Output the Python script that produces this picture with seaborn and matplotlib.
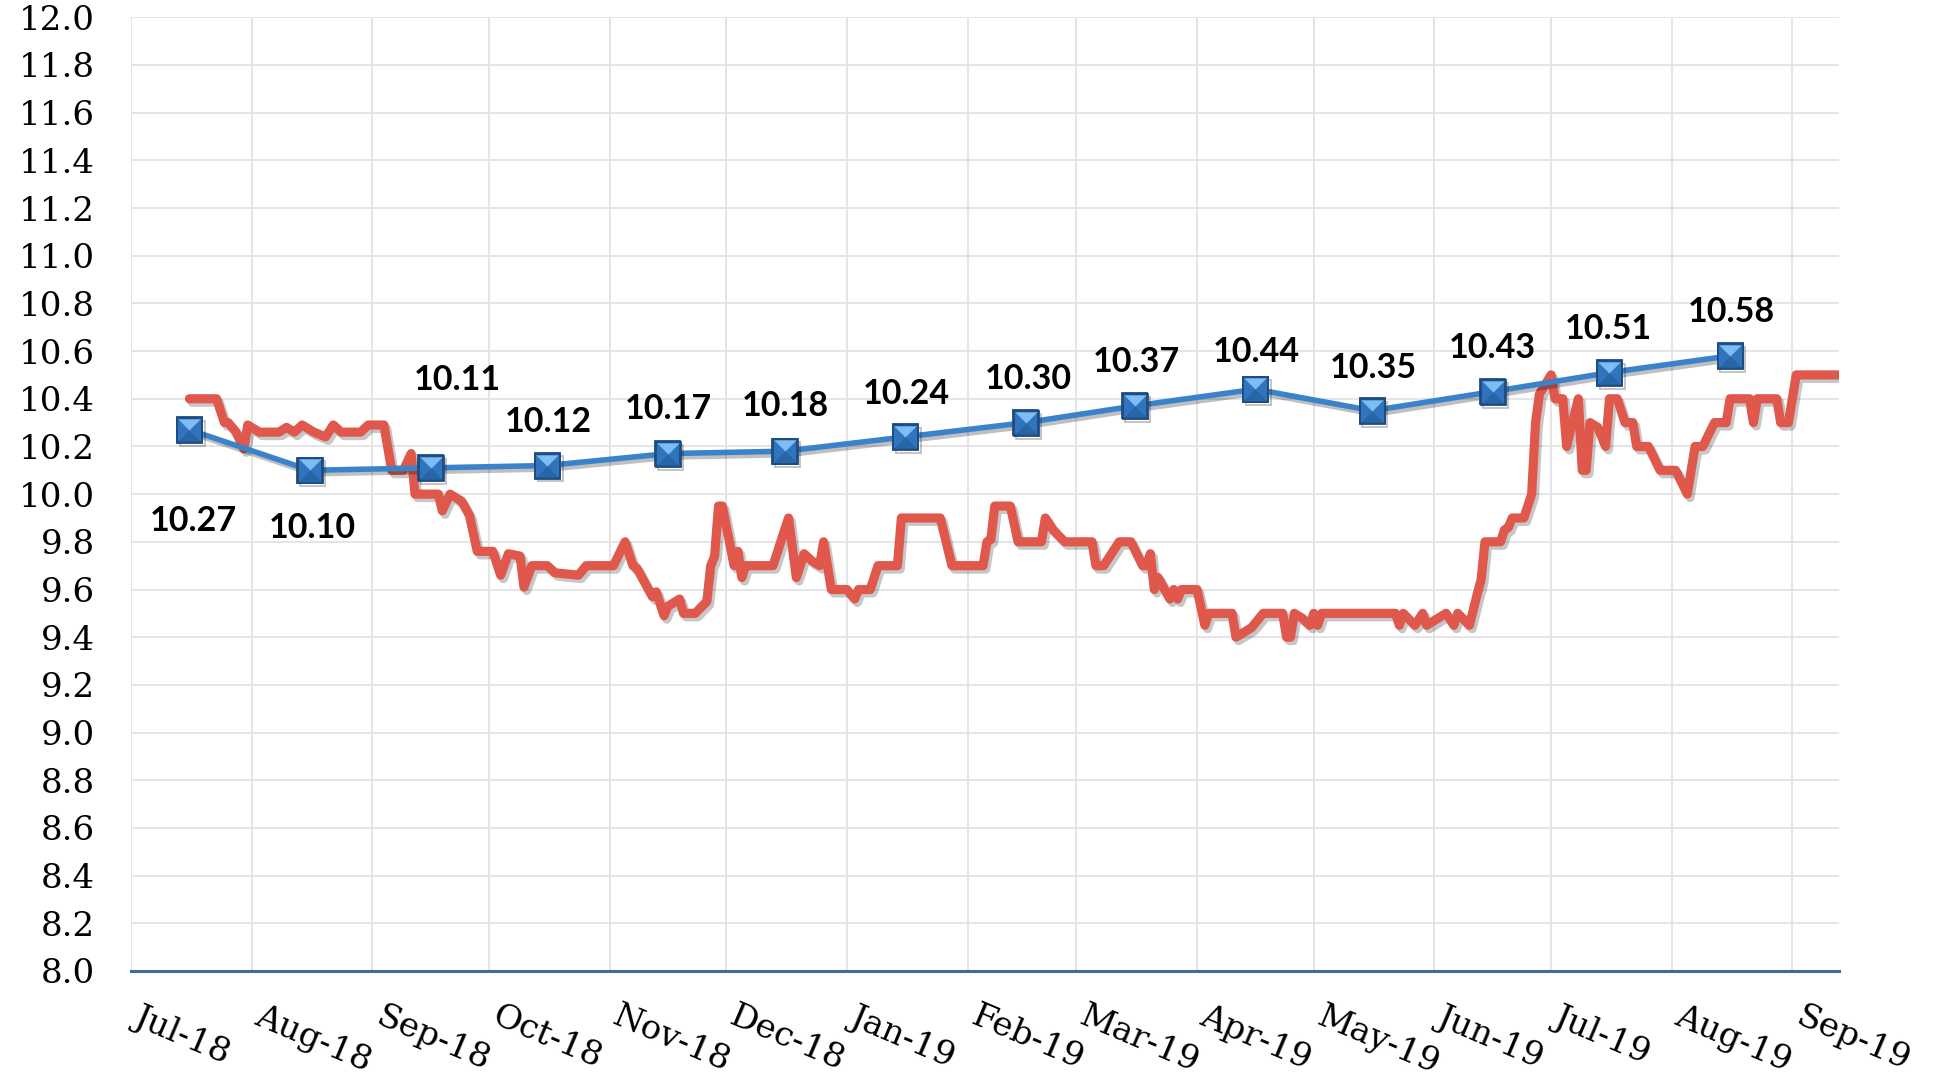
import matplotlib
matplotlib.use("Agg")
import matplotlib.pyplot as plt
import matplotlib.dates as mdates
import matplotlib.patheffects as pe
import matplotlib.transforms as mtransforms
from matplotlib.path import Path
import numpy as np
import pandas as pd
import seaborn as sns

# Monthly average rate, plotted mid-month
month_dates = ["2018-07-16", "2018-08-16", "2018-09-16", "2018-10-16", "2018-11-16",
               "2018-12-16", "2019-01-16", "2019-02-16", "2019-03-16", "2019-04-16",
               "2019-05-16", "2019-06-16", "2019-07-16", "2019-08-16"]
month_values = [10.27, 10.10, 10.11, 10.12, 10.17, 10.18, 10.24, 10.30, 10.37,
                10.44, 10.35, 10.43, 10.51, 10.58]

# Daily rate (turning points of the daily series)
daily_dates = [
    "2018-07-16", "2018-07-23", "2018-07-25", "2018-07-26", "2018-07-28", "2018-07-30",
    "2018-07-31", "2018-08-03", "2018-08-08", "2018-08-10", "2018-08-12", "2018-08-14",
    "2018-08-17", "2018-08-20", "2018-08-22", "2018-08-24", "2018-08-29", "2018-08-31",
    "2018-09-04", "2018-09-06", "2018-09-09", "2018-09-11", "2018-09-12", "2018-09-18",
    "2018-09-19", "2018-09-21", "2018-09-24", "2018-09-26", "2018-09-28", "2018-10-02",
    "2018-10-04", "2018-10-06", "2018-10-09", "2018-10-10", "2018-10-12", "2018-10-16",
    "2018-10-18", "2018-10-24", "2018-10-26", "2018-11-02", "2018-11-05", "2018-11-07",
    "2018-11-08", "2018-11-12", "2018-11-13", "2018-11-15", "2018-11-16", "2018-11-19",
    "2018-11-20", "2018-11-23", "2018-11-26", "2018-11-27", "2018-11-28", "2018-11-29",
    "2018-11-30", "2018-12-03", "2018-12-04", "2018-12-05", "2018-12-06", "2018-12-13",
    "2018-12-17", "2018-12-19", "2018-12-21", "2018-12-23", "2018-12-25", "2018-12-26",
    "2018-12-28", "2019-01-01", "2019-01-03", "2019-01-04", "2019-01-07", "2019-01-09",
    "2019-01-14", "2019-01-15", "2019-01-25", "2019-01-28", "2019-02-05", "2019-02-06",
    "2019-02-07", "2019-02-08", "2019-02-12", "2019-02-14", "2019-02-20", "2019-02-21",
    "2019-02-23", "2019-02-26", "2019-03-05", "2019-03-06", "2019-03-08", "2019-03-12",
    "2019-03-15", "2019-03-18", "2019-03-19", "2019-03-20", "2019-03-21", "2019-03-22",
    "2019-03-25", "2019-03-26", "2019-03-27", "2019-03-28", "2019-04-01", "2019-04-03",
    "2019-04-04", "2019-04-10", "2019-04-11", "2019-04-15", "2019-04-18", "2019-04-23",
    "2019-04-24", "2019-04-25", "2019-04-26", "2019-04-28", "2019-04-30", "2019-05-01",
    "2019-05-02", "2019-05-03", "2019-05-22", "2019-05-23", "2019-05-24", "2019-05-27",
    "2019-05-29", "2019-05-30", "2019-06-04", "2019-06-06", "2019-06-07", "2019-06-10",
    "2019-06-12", "2019-06-13", "2019-06-14", "2019-06-18", "2019-06-19", "2019-06-20",
    "2019-06-21", "2019-06-24", "2019-06-26", "2019-06-27", "2019-06-28", "2019-07-01",
    "2019-07-02", "2019-07-04", "2019-07-05", "2019-07-08", "2019-07-09", "2019-07-10",
    "2019-07-11", "2019-07-13", "2019-07-15", "2019-07-16", "2019-07-18", "2019-07-20",
    "2019-07-22", "2019-07-23", "2019-07-26", "2019-07-29", "2019-08-02", "2019-08-05",
    "2019-08-07", "2019-08-09", "2019-08-12", "2019-08-15", "2019-08-16", "2019-08-21",
    "2019-08-22", "2019-08-23", "2019-08-28", "2019-08-29", "2019-08-31", "2019-09-02",
    "2019-09-13",
]
daily_values = [
    10.40, 10.40, 10.30, 10.30, 10.26, 10.19,
    10.29, 10.26, 10.26, 10.28, 10.26, 10.29,
    10.26, 10.24, 10.29, 10.26, 10.26, 10.29,
    10.29, 10.10, 10.10, 10.17, 10.00, 10.00,
    9.93, 10.00, 9.97, 9.91, 9.76, 9.76,
    9.66, 9.75, 9.74, 9.61, 9.70, 9.70,
    9.67, 9.66, 9.70, 9.70, 9.80, 9.70,
    9.69, 9.57, 9.59, 9.49, 9.53, 9.56,
    9.50, 9.50, 9.55, 9.70, 9.74, 9.95,
    9.95, 9.70, 9.76, 9.65, 9.70, 9.70,
    9.90, 9.65, 9.75, 9.72, 9.70, 9.80,
    9.60, 9.60, 9.56, 9.60, 9.60, 9.70,
    9.70, 9.90, 9.90, 9.70, 9.70, 9.80,
    9.81, 9.95, 9.95, 9.80, 9.80, 9.90,
    9.85, 9.80, 9.80, 9.70, 9.70, 9.80,
    9.80, 9.70, 9.70, 9.75, 9.60, 9.65,
    9.56, 9.60, 9.56, 9.60, 9.60, 9.45,
    9.50, 9.50, 9.40, 9.44, 9.50, 9.50,
    9.40, 9.40, 9.50, 9.48, 9.45, 9.50,
    9.45, 9.50, 9.50, 9.45, 9.50, 9.45,
    9.50, 9.45, 9.50, 9.45, 9.50, 9.45,
    9.58, 9.64, 9.80, 9.80, 9.85, 9.86,
    9.90, 9.90, 10.00, 10.30, 10.42, 10.50,
    10.40, 10.40, 10.20, 10.40, 10.10, 10.10,
    10.30, 10.28, 10.20, 10.40, 10.40, 10.30,
    10.30, 10.20, 10.20, 10.10, 10.10, 10.00,
    10.20, 10.20, 10.30, 10.30, 10.40, 10.40,
    10.30, 10.40, 10.40, 10.30, 10.30, 10.50,
    10.50,
]

y_ticks = np.round(np.arange(8.0, 12.01, 0.2), 1)
x_ticks = pd.date_range("2018-07-01", "2019-09-01", freq="MS")

# label offsets (pixels) for the monthly values
label_offsets = [(4, -91), (2, -58), (27, 88), (1, 44), (0, 45), (1, 45), (1, 43),
                 (2, 44), (2, 44), (1, 37), (1, 43), (0, 44), (-1, 44), (1, 44)]

RED = "#E0574C"
BLUE = "#3A83CA"
AXIS_BLUE = "#44689B"

sns.set_style("white")
plt.rcParams["font.family"] = ["DejaVu Serif"]

fig = plt.figure(figsize=(19.35, 10.86), dpi=100)
ax = fig.add_axes([0.0677, 0.1059, 0.8827, 0.8782])

daily = pd.DataFrame({"date": pd.to_datetime(daily_dates), "rate": daily_values})
monthly = pd.DataFrame({"date": pd.to_datetime(month_dates), "rate": month_values})

def shadow(off=(2, -2.5), alpha=0.22):
    return [pe.SimpleLineShadow(offset=off, shadow_color="black", alpha=alpha), pe.Normal()]

# daily series
sns.lineplot(data=daily, x="date", y="rate", ax=ax, color=RED, linewidth=6.6,
             zorder=3, legend=False)
red_line = ax.lines[-1]
red_line.set_solid_joinstyle("round")
red_line.set_solid_capstyle("round")
red_line.set_path_effects(shadow())

# monthly series with bevelled square markers
sns.lineplot(data=monthly, x="date", y="rate", ax=ax, color=BLUE, linewidth=4.0,
             marker="s", markersize=18, markerfacecolor="#2F74BC",
             markeredgecolor="#1E4C80", markeredgewidth=1.3, zorder=4, legend=False)
ax.lines[-1].set_path_effects(shadow((2, -2.5), 0.25))

top_tri = Path([(-1, 1), (1, 1), (0, 0), (-1, 1)],
               [Path.MOVETO, Path.LINETO, Path.LINETO, Path.CLOSEPOLY])
bot_tri = Path([(-1, -1), (1, -1), (0, 0), (-1, -1)],
               [Path.MOVETO, Path.LINETO, Path.LINETO, Path.CLOSEPOLY])
ax.plot(monthly["date"], monthly["rate"], ls="none", marker=top_tri, ms=16,
        mfc="#7DBDF4", mec="none", zorder=5)
ax.plot(monthly["date"], monthly["rate"], ls="none", marker=bot_tri, ms=16,
        mfc="#2865A6", mec="none", zorder=5)
ax.plot(monthly["date"], monthly["rate"], ls="none", marker="s", ms=18,
        mfc="none", mec="#1E4C80", mew=1.3, zorder=6)

for d, v, (dx, dy) in zip(monthly["date"], month_values, label_offsets):
    ax.annotate(f"{v:.2f}", xy=(d, v), xytext=(dx, dy), textcoords="offset pixels",
                ha="center", va="center", fontsize=24.5, fontweight="bold",
                family=["Lato", "DejaVu Sans"], color="black", zorder=7)

# axes
ax.set_xlim(pd.Timestamp("2018-07-01"), pd.Timestamp("2019-09-13"))
ax.set_ylim(8.0, 12.0)
ax.set_yticks(y_ticks)
ax.yaxis.set_major_formatter(matplotlib.ticker.FormatStrFormatter("%.1f"))
ax.set_xticks(x_ticks)
ax.xaxis.set_major_formatter(mdates.DateFormatter("%b-%y"))
ax.set_xlabel("")
ax.set_ylabel("")

ax.grid(True, color="#E3E3E3", linewidth=1.3)
ax.set_axisbelow(True)
for side in ("left", "right", "top"):
    ax.spines[side].set_visible(False)
ax.spines["bottom"].set_color(AXIS_BLUE)
ax.spines["bottom"].set_linewidth(2.2)

ax.tick_params(axis="y", length=0, pad=26, labelsize=24.5, labelcolor="black")
ax.tick_params(axis="x", length=9, width=1.6, color=AXIS_BLUE, direction="out",
               pad=12, labelsize=24.5, labelcolor="black")
shift = mtransforms.ScaledTranslation(0.11, 0, fig.dpi_scale_trans)
for lbl in ax.get_xticklabels():
    lbl.set_rotation(-23)
    lbl.set_ha("left")
    lbl.set_va("top")
    lbl.set_rotation_mode("anchor")
    lbl.set_transform(lbl.get_transform() + shift)

fig.savefig("out.png", dpi=100, facecolor="white")
